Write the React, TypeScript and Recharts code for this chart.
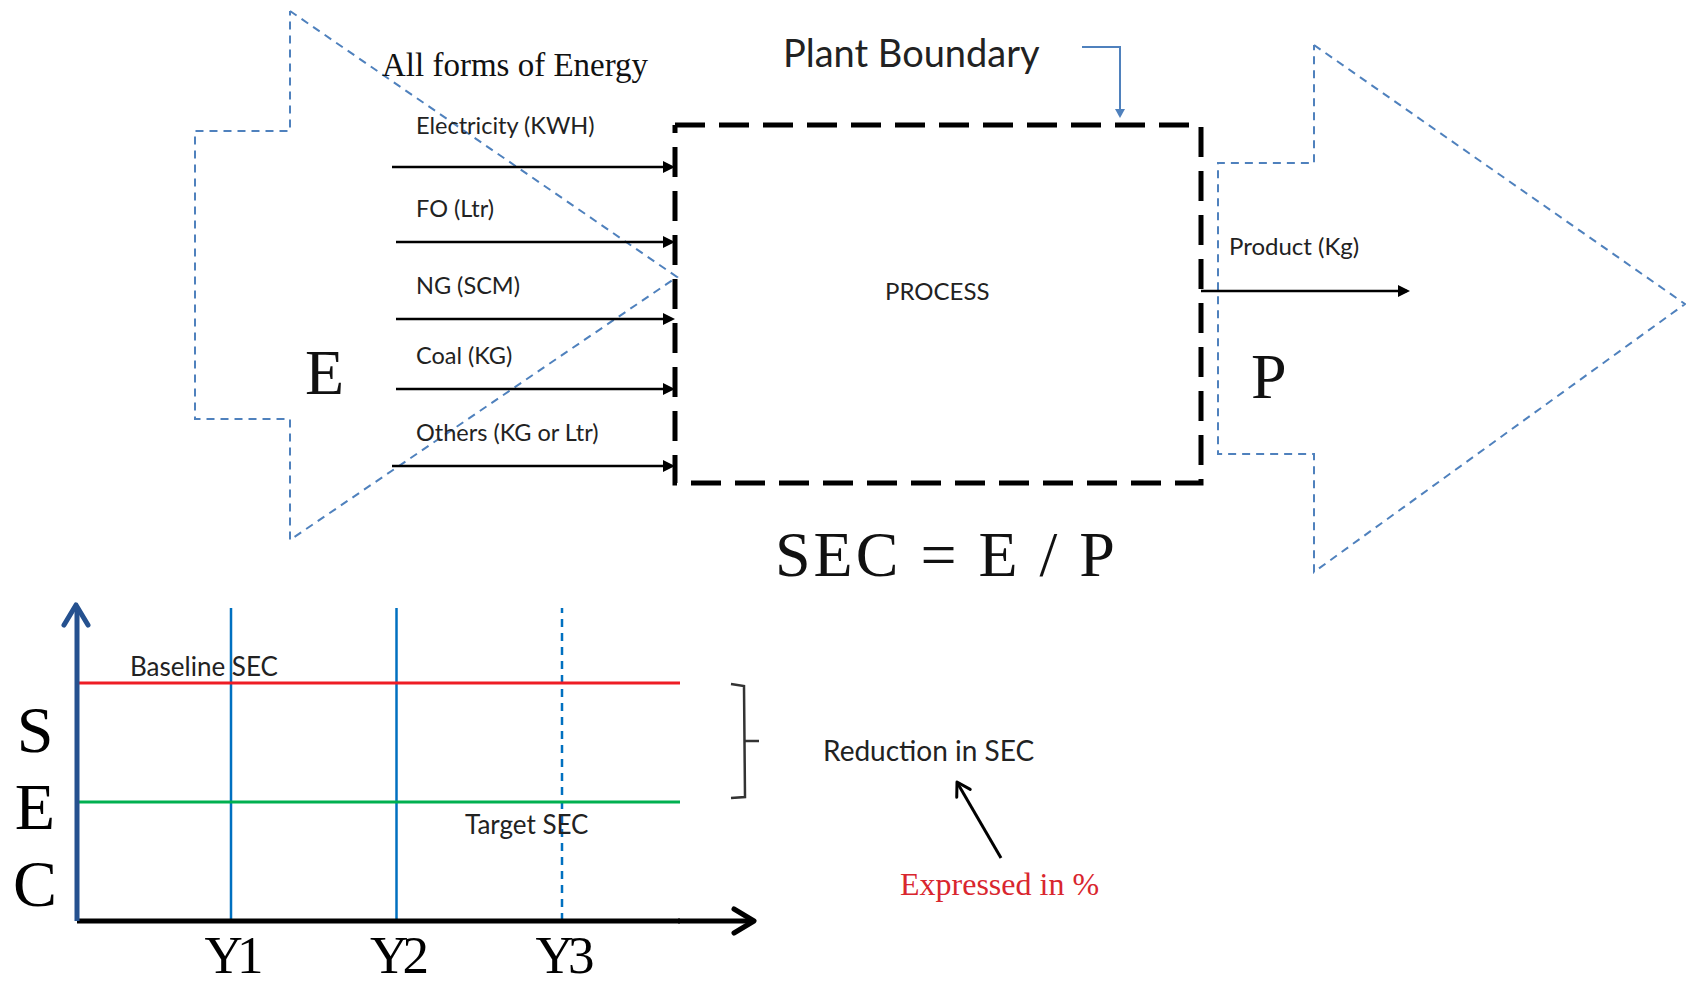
import { ComposedChart, Line, Scatter, XAxis, YAxis, ReferenceLine } from 'recharts'

const W = 1686
const H = 989
const SERIF = '"Liberation Serif", "Times New Roman", serif'
const SANS = 'Lato, "Open Sans", sans-serif'

// lower chart: SEC over the years
const years = ['Y1', 'Y2', 'Y3']
const plannedYears = ['Y3']
const baselineSec = 7.6
const targetSec = 3.8
const secDomain = [0, 10]
const secAxisLetters = ['S', 'E', 'C']

// upper diagram: energy in, product out
const energyInputs = ['Electricity (KWH)', 'FO (Ltr)', 'NG (SCM)', 'Coal (KG)', 'Others (KG or Ltr)']
const productOutput = 'Product (Kg)'

type Pt = { x: number; y: number }

// layout in page pixels (the diagram chart uses a 1:1 pixel domain)
const inputArrowY = [167, 242, 319, 389, 466]
const inputArrowX0 = [392, 396, 396, 396, 392]
const inputLabelY = [125, 208, 285, 355, 432]
const box = { left: 675, right: 1201, top: 125, bottom: 483 }

const energyOutline: Pt[] = [
  { x: 290, y: 11 }, { x: 677, y: 277 }, { x: 290, y: 540 }, { x: 290, y: 419 },
  { x: 195, y: 419 }, { x: 195, y: 131 }, { x: 290, y: 131 }, { x: 290, y: 11 },
]
const productOutline: Pt[] = [
  { x: 1314, y: 45 }, { x: 1685, y: 304 }, { x: 1314, y: 572 }, { x: 1314, y: 454 },
  { x: 1218, y: 454 }, { x: 1218, y: 163 }, { x: 1314, y: 163 }, { x: 1314, y: 45 },
]
const boxOutline: Pt[] = [
  { x: box.left, y: box.top }, { x: box.right, y: box.top }, { x: box.right, y: box.bottom },
  { x: box.left, y: box.bottom }, { x: box.left, y: box.top },
]
const boundaryPointer: Pt[] = [{ x: 1082, y: 47 }, { x: 1120, y: 47 }, { x: 1120, y: 114 }]
const productArrow: Pt[] = [{ x: box.right, y: 291 }, { x: 1407, y: 291 }]
const xAxisTail: Pt[] = [{ x: 678, y: 921 }, { x: 752, y: 921 }]
const bracket: Pt[] = [{ x: 731, y: 684 }, { x: 744, y: 686 }, { x: 745, y: 797 }, { x: 731, y: 798 }]
const bracketTick: Pt[] = [{ x: 745, y: 741 }, { x: 759, y: 741 }]
const pctPointer: Pt[] = [{ x: 1001, y: 858 }, { x: 958, y: 784 }]

const filledHeads = [
  ...inputArrowY.map((y) => ({ x: box.left, y, angle: 0 })),
  { x: 1410, y: 291, angle: 0 },
]
const openHeads = [
  { x: 754, y: 921, angle: 0, size: 20 },
  { x: 76, y: 605, angle: -90, size: 20 },
  { x: 957, y: 782, angle: -120, size: 13 },
]

const serifNotes = [
  { x: 382, y: 65, text: 'All forms of Energy', size: 33 },
  { x: 305, y: 372, text: 'E', size: 64 },
  { x: 1251, y: 376, text: 'P', size: 64 },
  { x: 775, y: 554, text: 'SEC = E / P', size: 64 },
]
const sansNotes = [
  ...energyInputs.map((text, i) => ({ x: 416, y: inputLabelY[i], text, size: 23.5 })),
  { x: 783, y: 52, text: 'Plant Boundary', size: 38 },
  { x: 885, y: 290, text: 'PROCESS', size: 24 },
  { x: 1229, y: 245, text: productOutput, size: 24 },
  { x: 823, y: 750, text: 'Reduction in SEC', size: 28 },
]
const redNotes = [{ x: 900, y: 884, text: 'Expressed in %', size: 32 }]

const lineProps = {
  dataKey: 'y',
  dot: false,
  activeDot: false,
  isAnimationActive: false,
  type: 'linear' as const,
  legendType: 'none' as const,
}

function FilledHead(props: any) {
  const { cx, cy, payload } = props
  return (
    <path
      d="M-12,-6 L0,0 L-12,6 Z"
      transform={`translate(${cx},${cy}) rotate(${payload.angle})`}
      fill="#000"
    />
  )
}

function OpenHead(props: any) {
  const { cx, cy, payload } = props
  const s = payload.size
  return (
    <path
      d={`M${-s},${-s * 0.6} L0,0 L${-s},${s * 0.6}`}
      transform={`translate(${cx},${cy}) rotate(${payload.angle})`}
      fill="none"
      stroke={payload.angle === -90 ? '#25518f' : '#000'}
      strokeWidth={s > 15 ? 5 : 3}
      strokeLinecap="round"
      strokeLinejoin="round"
    />
  )
}

function noteShape(family: string, color: string) {
  return (props: any) => {
    const { cx, cy, payload } = props
    return (
      <text
        x={cx}
        y={cy}
        fontFamily={family}
        fontSize={payload.size}
        fill={color}
        dominantBaseline="central"
        letterSpacing={payload.size > 60 ? 3 : 0}
      >
        {payload.text}
      </text>
    )
  }
}

function SecLetters(props: any) {
  const vb = props.viewBox
  return (
    <g>
      {secAxisLetters.map((ch, i) => (
        <text
          key={ch}
          x={vb.x + 35}
          y={vb.y + 121 + i * 77}
          textAnchor="middle"
          dominantBaseline="central"
          fontFamily={SERIF}
          fontSize={66}
          fill="#000"
        >
          {ch}
        </text>
      ))}
    </g>
  )
}

function YearTick(props: any) {
  const { x, y, payload } = props
  return (
    <text
      x={x}
      y={y + 26}
      textAnchor="middle"
      dominantBaseline="central"
      fontFamily={SERIF}
      fontSize={53}
      letterSpacing={-6}
      fill="#000"
    >
      {payload.value}
    </text>
  )
}

export default function App() {
  const secData = years.map((year) => ({ year, baseline: baselineSec, target: targetSec }))
  return (
    <div style={{ position: 'absolute', left: 0, top: 0, width: W, height: H, background: '#fff' }}>
      <div style={{ position: 'absolute', left: 0, top: 0 }}>
        <ComposedChart width={W} height={H} data={secData} margin={{ top: 608, right: W - 680, bottom: 8, left: 0 }}>
          <XAxis
            dataKey="year"
            type="category"
            scale="point"
            padding={{ left: 154, right: 118 }}
            height={60}
            interval={0}
            axisLine={{ stroke: '#000', strokeWidth: 5 }}
            tickLine={false}
            tick={YearTick}
          />
          <YAxis
            type="number"
            domain={secDomain}
            allowDataOverflow
            width={77}
            axisLine={{ stroke: '#25518f', strokeWidth: 5 }}
            tick={false}
            tickLine={false}
            label={{ content: SecLetters }}
          />
          <Line dataKey="baseline" stroke="none" dot={false} activeDot={false} legendType="none" isAnimationActive={false} />
          <Line dataKey="target" stroke="none" dot={false} activeDot={false} legendType="none" isAnimationActive={false} />
          {years.map((y) => (
            <ReferenceLine
              key={y}
              x={y}
              stroke="#0070c0"
              strokeWidth={2.5}
              strokeDasharray={plannedYears.includes(y) ? '8 6' : undefined}
            />
          ))}
          <ReferenceLine
            y={baselineSec}
            stroke="#ee1c25"
            strokeWidth={3}
            label={(p: any) => (
              <text x={p.viewBox.x + 53} y={p.viewBox.y - 17} dominantBaseline="central" fontFamily={SANS} fontSize={26} fill="#222">
                Baseline SEC
              </text>
            )}
          />
          <ReferenceLine
            y={targetSec}
            stroke="#00b050"
            strokeWidth={3}
            label={(p: any) => (
              <text x={p.viewBox.x + 388} y={p.viewBox.y + 22} dominantBaseline="central" fontFamily={SANS} fontSize={26} fill="#222">
                Target SEC
              </text>
            )}
          />
        </ComposedChart>
      </div>
      <div style={{ position: 'absolute', left: 0, top: 0 }}>
        <ComposedChart width={W} height={H} margin={{ top: 0, right: 0, bottom: 0, left: 0 }}>
          <XAxis type="number" dataKey="x" domain={[0, W]} allowDataOverflow hide />
          <YAxis type="number" dataKey="y" domain={[0, H]} allowDataOverflow reversed hide />
          <Line {...lineProps} data={energyOutline} stroke="#4f81bd" strokeWidth={2} strokeDasharray="8 6" />
          <Line {...lineProps} data={productOutline} stroke="#4f81bd" strokeWidth={2} strokeDasharray="8 6" />
          <Line {...lineProps} data={boxOutline} stroke="#000" strokeWidth={5} strokeDasharray="30 14" />
          <Line {...lineProps} data={boundaryPointer} stroke="#4f81bd" strokeWidth={2} />
          {inputArrowY.map((y, i) => (
            <Line key={i} {...lineProps} data={[{ x: inputArrowX0[i], y }, { x: box.left - 6, y }]} stroke="#000" strokeWidth={2.5} />
          ))}
          <Line {...lineProps} data={productArrow} stroke="#000" strokeWidth={2.5} />
          <Line {...lineProps} data={xAxisTail} stroke="#000" strokeWidth={5} />
          <Line {...lineProps} data={bracket} stroke="#333" strokeWidth={2.5} />
          <Line {...lineProps} data={bracketTick} stroke="#333" strokeWidth={2.5} />
          <Line {...lineProps} data={pctPointer} stroke="#000" strokeWidth={3} />
          <Scatter data={filledHeads} shape={FilledHead} isAnimationActive={false} />
          <Scatter data={openHeads} shape={OpenHead} isAnimationActive={false} />
          <Scatter
            data={[{ x: 1120, y: 118, angle: 90 }]}
            shape={(p: any) => (
              <path d="M-9,-5 L0,0 L-9,5 Z" transform={`translate(${p.cx},${p.cy}) rotate(90)`} fill="#4f81bd" />
            )}
            isAnimationActive={false}
          />
          <Scatter data={serifNotes} shape={noteShape(SERIF, '#111')} isAnimationActive={false} />
          <Scatter data={sansNotes} shape={noteShape(SANS, '#222')} isAnimationActive={false} />
          <Scatter data={redNotes} shape={noteShape(SERIF, '#d9262e')} isAnimationActive={false} />
        </ComposedChart>
      </div>
    </div>
  )
}
